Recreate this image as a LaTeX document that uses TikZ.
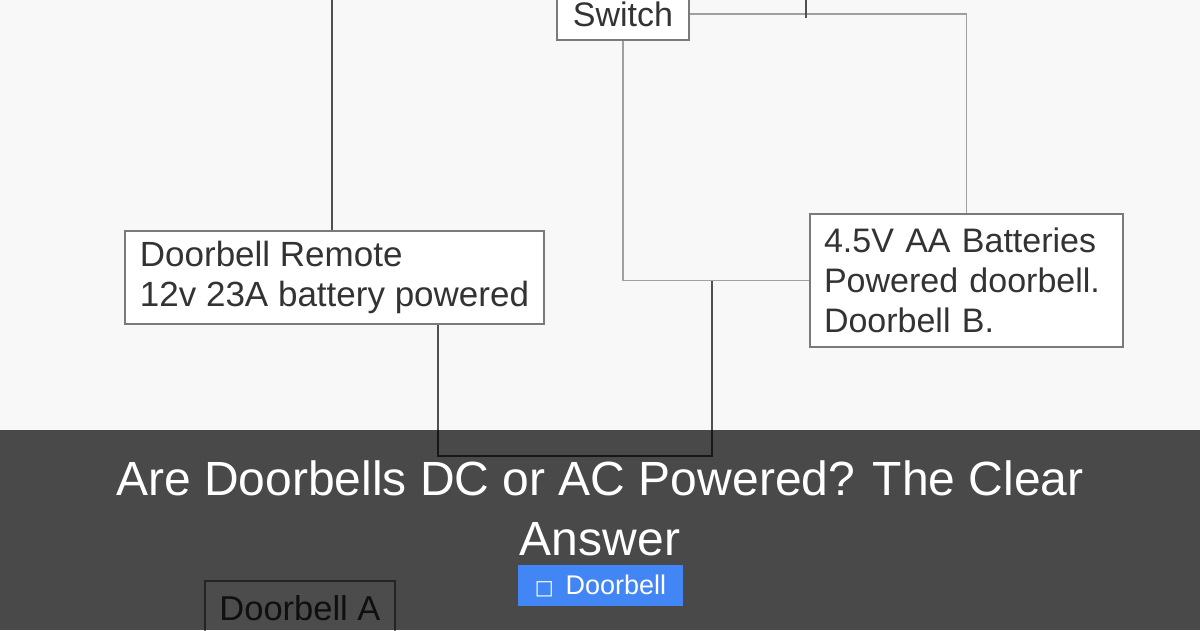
\documentclass[tikz,border=0pt]{standalone}
\usepackage{fontspec}
\setmainfont{Liberation Sans}
\newfontfamily\symfont{DejaVu Sans}
\definecolor{txt}{HTML}{333333}
\definecolor{boxline}{HTML}{7A7A7A}
\definecolor{wiredark}{HTML}{505050}
\definecolor{wirelight}{HTML}{A0A0A0}
\definecolor{bgpaper}{HTML}{F8F8F8}
\definecolor{tagblue}{HTML}{4285F4}
\begin{document}
\begin{tikzpicture}[x=1pt,y=-1pt,
  diabox/.style={draw=boxline,line width=1.6pt,fill=white,text=txt,
    font=\fontsize{34}{40}\selectfont,inner sep=0pt},
  darkwire/.style={draw=wiredark,line width=1.8pt},
  lightwire/.style={draw=wirelight,line width=1.6pt},
  title/.style={text=white,font=\fontsize{48}{60}\selectfont,align=center},
  tag/.style={fill=tagblue,text=white,font=\fontsize{27}{30}\selectfont,
    minimum width=165pt,minimum height=41pt,inner sep=0pt}]
\useasboundingbox (0,0) rectangle (1200,630);
\fill[bgpaper] (0,0) rectangle (1200,630);

% boxes
\node[diabox,minimum width=132pt,minimum height=52pt] (switch) at (623,14) {Switch};
\node[diabox,minimum width=419pt,minimum height=93pt,align=left,
  font=\fontsize{35}{40}\selectfont] (remote) at (334.5,277.5)
  {Doorbell Remote\\12v 23A battery powered};
\node[diabox,minimum height=133pt,text width=285pt,inner xsep=14pt,align=left] (batt) at (966.5,280.5)
  {4.5V AA Batteries\\Powered doorbell.\\Doorbell B.};
\node[diabox,minimum width=190pt,minimum height=54pt,font=\fontsize{34.5}{40}\selectfont] (dba) at (300,608) {Doorbell A};

% coordinates
\coordinate (topL) at (332,0);
\coordinate (tickTop) at (806,-2);
\coordinate (tickBot) at (806,18);
\coordinate (j) at (712,280.5);
\coordinate (bot) at (712,456);

% wires
\draw[darkwire] (topL) -- (topL |- remote.north);
\draw[lightwire] (switch.east) -| (batt.north);
\draw[darkwire] (tickTop) -- (tickBot);
\draw[lightwire] (switch.south) |- (batt.west);
\draw[darkwire] ([xshift=103.5pt]remote.south) |- (bot) -- (j);

% overlay
\fill[black,opacity=0.7] (0,430) rectangle (1200,630);

\node[title] (ttl) at (600,508) {Are Doorbells DC or AC Powered? The Clear\\Answer};
\node[tag] (tg) at (600.5,585.5) {{\symfont\fontsize{20}{24}\selectfont □}\hspace{12pt}Doorbell};
\end{tikzpicture}
\end{document}
